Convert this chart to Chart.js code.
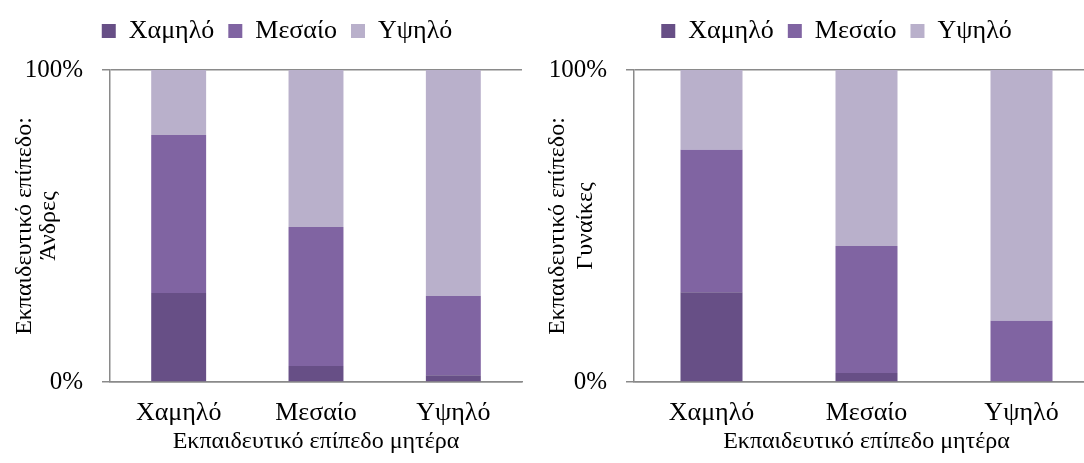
<!DOCTYPE html>
<html>
<head>
<meta charset="utf-8">
<script src="https://cdn.jsdelivr.net/npm/chart.js@4"></script>
<style>
  body { margin: 0; background: #fff; }
  #wrap { position: relative; width: 1084px; height: 463px; overflow: hidden; }
  #left { position: absolute; left: 0; top: 0; }
  #right { position: absolute; left: 542px; top: 0; }
</style>
</head>
<body>
<div id="wrap">
  <div id="left"><canvas id="menChart" width="542" height="463"></canvas></div>
  <div id="right"><canvas id="womenChart" width="570" height="463"></canvas></div>
</div>
<script>
const categories = ['Χαμηλό', 'Μεσαίο', 'Υψηλό'];
const seriesNames = ['Χαμηλό', 'Μεσαίο', 'Υψηλό'];
const menLow = [28.5, 5.1, 2.2];
const menMid = [50.7, 44.6, 25.4];
const menHigh = [20.8, 50.3, 72.4];
const womenLow = [28.8, 2.9, 0.3];
const womenMid = [45.6, 40.7, 19.3];
const womenHigh = [25.6, 56.4, 80.4];
const yTicks = [0, 100];

const colors = ['#674f86', '#8064a2', '#b9b0cb'];
const axisGray = '#8a8a8a';
const serif = "'Liberation Serif', 'Times New Roman', serif";

// extra room under the legend, and a small sideways nudge of it
const legendTweak = {
  id: 'legendTweak',
  beforeInit(chart) {
    const fit = chart.legend.fit;
    chart.legend.fit = function () {
      fit.bind(chart.legend)();
      this.height += 16;
    };
  },
  afterLayout(chart) {
    chart.legend.left += 16;
    chart.legend.right += 16;
  }
};

function makeChart(canvasId, low, mid, high, yTitle, axisWidth, titleLineHeight, titlePad, padRight) {
  const series = [low, mid, high];
  return new Chart(document.getElementById(canvasId), {
    type: 'bar',
    plugins: [legendTweak],
    data: {
      labels: categories,
      datasets: seriesNames.map((name, i) => ({
        label: name,
        data: series[i],
        backgroundColor: colors[i],
        borderWidth: 0,
        barPercentage: 0.4,
        categoryPercentage: 1
      }))
    },
    options: {
      responsive: false,
      animation: false,
      layout: { padding: { top: 4, right: padRight, bottom: 7, left: 0 } },
      plugins: {
        legend: {
          position: 'top',
          labels: {
            boxWidth: 14,
            boxHeight: 14,
            padding: 14,
            color: '#000',
            font: { family: serif, size: 26 }
          }
        },
        tooltip: { enabled: false }
      },
      scales: {
        x: {
          stacked: true,
          afterFit: scale => { scale.height = 74; },
          grid: { display: false, drawTicks: false },
          border: { display: true, color: axisGray, width: 1.5 },
          ticks: { color: '#000', font: { family: serif, size: 26 }, padding: 16 },
          title: {
            display: true,
            text: 'Εκπαιδευτικό επίπεδο μητέρα',
            color: '#000',
            font: { family: serif, size: 24 },
            padding: { top: 1, bottom: 0 }
          }
        },
        y: {
          stacked: true,
          min: 0,
          max: 100,
          afterBuildTicks: scale => { scale.ticks = yTicks.map(v => ({ value: v })); },
          afterFit: scale => { scale.width = axisWidth; },
          grid: { color: axisGray, lineWidth: 1.5, tickLength: 8 },
          border: { display: true, color: axisGray, width: 1.5 },
          ticks: {
            color: '#000',
            font: { family: serif, size: 25 },
            padding: 19,
            callback: v => v + '%'
          },
          title: {
            display: true,
            text: yTitle,
            color: '#000',
            font: { family: serif, size: 24, lineHeight: titleLineHeight },
            padding: { top: titlePad, bottom: 0 }
          }
        }
      }
    }
  });
}

makeChart('menChart', menLow, menMid, menHigh, ['Εκπαιδευτικό επίπεδο:', 'Άνδρες'], 110, 1.0, 13, 20);
makeChart('womenChart', womenLow, womenMid, womenHigh, ['Εκπαιδευτικό επίπεδο:', 'Γυναίκες'], 92, 1.2, 1, 13);
</script>
</body>
</html>
